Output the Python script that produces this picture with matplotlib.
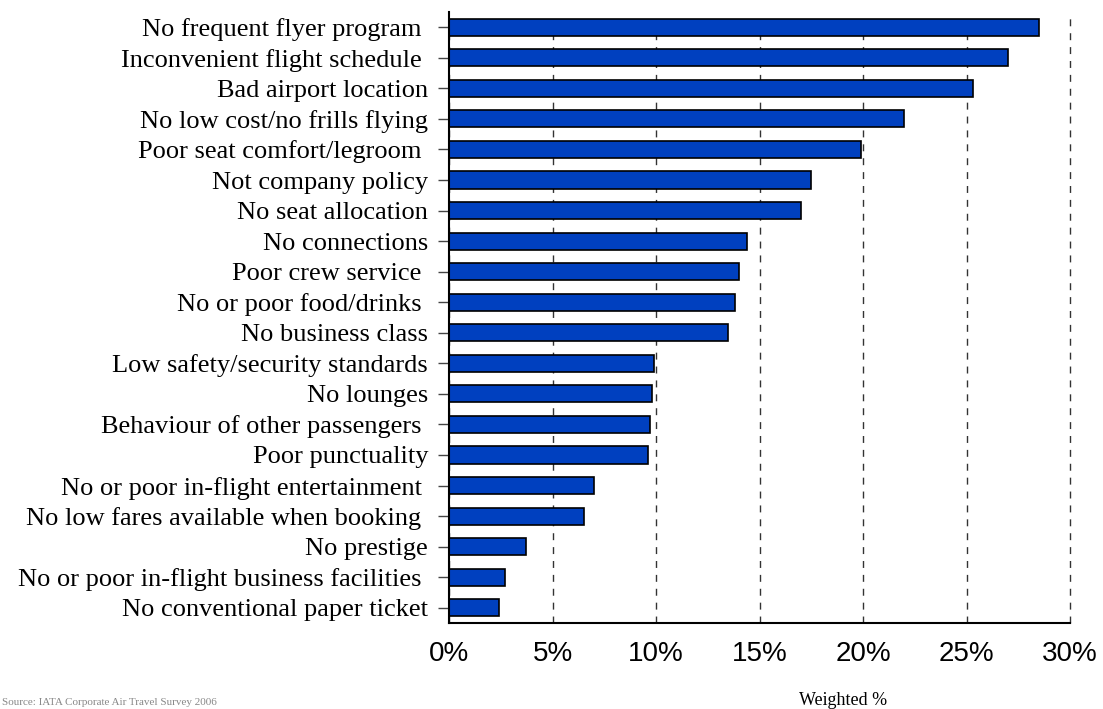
import matplotlib
matplotlib.use("Agg")
import matplotlib.pyplot as plt
from matplotlib.ticker import FuncFormatter

# Reasons for not choosing an airline, weighted share of respondents (%)
reasons = [
    "No frequent flyer program ",
    "Inconvenient flight schedule ",
    "Bad airport location",
    "No low cost/no frills flying",
    "Poor seat comfort/legroom ",
    "Not company policy",
    "No seat allocation",
    "No connections",
    "Poor crew service ",
    "No or poor food/drinks ",
    "No business class",
    "Low safety/security standards",
    "No lounges",
    "Behaviour of other passengers ",
    "Poor punctuality",
    "No or poor in-flight entertainment ",
    "No low fares available when booking ",
    "No prestige",
    "No or poor in-flight business facilities ",
    "No conventional paper ticket",
]
weighted_pct = [28.5, 27.0, 25.3, 22.0, 19.9, 17.5, 17.0, 14.4, 14.0, 13.8,
                13.5, 9.9, 9.8, 9.7, 9.6, 7.0, 6.5, 3.7, 2.7, 2.4]
x_ticks = [0, 5, 10, 15, 20, 25, 30]
x_title = "Weighted %"
source_note = "Source: IATA Corporate Air Travel Survey 2006"

W, H = 1103, 709
fig = plt.figure(figsize=(W / 100, H / 100), dpi=100)
ax = fig.add_axes([449 / W, 1 - 623 / H, (1070 - 449) / W, (623 - 12) / H])

positions = list(range(len(reasons)))
ax.barh(positions, weighted_pct, height=0.56, color="#0040BF",
        edgecolor="black", linewidth=1.2, zorder=3)

ax.set_ylim(len(reasons) - 0.5, -0.5)
ax.set_xlim(0, 30)
ax.set_yticks(positions)
ax.set_yticklabels(reasons, family="Liberation Serif", fontsize=19)
ax.set_xticks(x_ticks)
ax.xaxis.set_major_formatter(FuncFormatter(lambda v, p: f"{v:.0f}%"))
for lbl in ax.get_xticklabels():
    lbl.set_family("Liberation Sans")
    lbl.set_fontsize(20)

ax.tick_params(axis="y", length=8, width=1, color="#444444", pad=7)
ax.tick_params(axis="x", length=0, pad=13)

# dashed vertical gridlines
ax.grid(axis="x", color="#333333", linestyle=(0, (5, 5)), linewidth=1.0, zorder=0)
ax.grid(axis="y", visible=False)
for gl in ax.get_xgridlines():
    gl.set_clip_on(False)

for side in ("top", "right"):
    ax.spines[side].set_visible(False)
for side in ("left", "bottom"):
    ax.spines[side].set_color("black")
    ax.spines[side].set_linewidth(1.5)
    ax.spines[side].set_zorder(4)

fig.text(843 / W, 4 / H, x_title, family="Liberation Serif", fontsize=13,
         ha="center", va="baseline")
fig.text(2 / W, 2 / H, source_note, family="Liberation Serif", fontsize=8,
         ha="left", va="bottom", color="#888888")

fig.savefig("out.png", dpi=100)
